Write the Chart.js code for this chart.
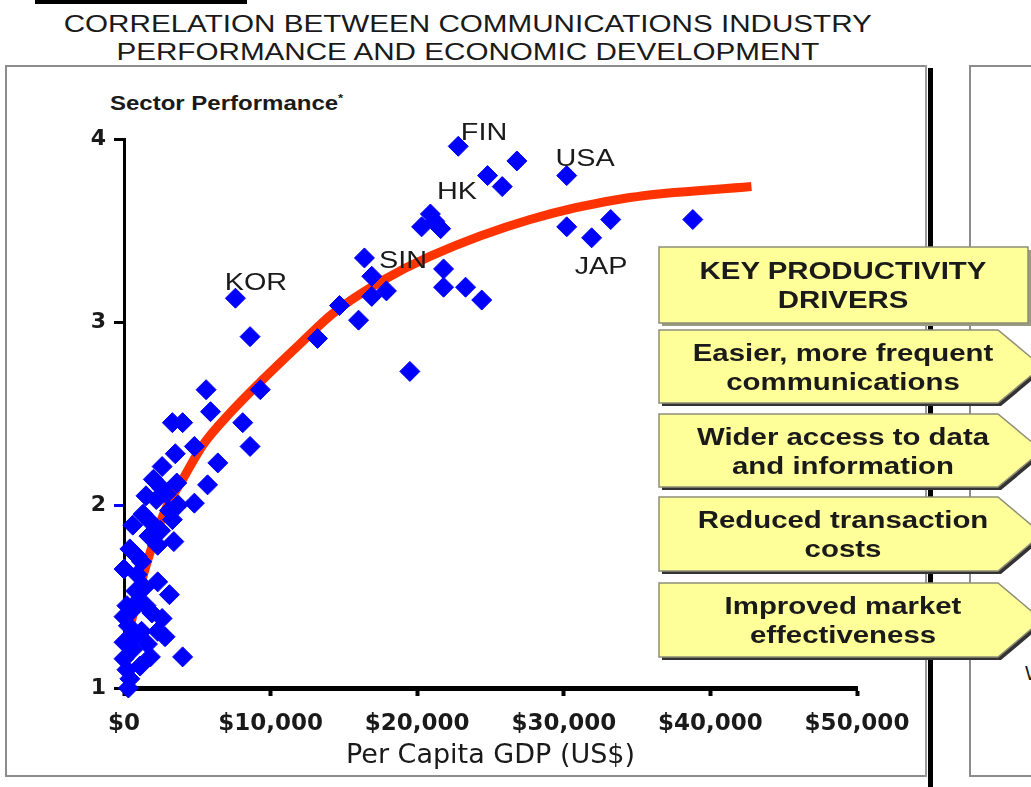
<!DOCTYPE html>
<html lang="en">
<head>
<meta charset="UTF-8" />
<title>Communications Industry Performance and Economic Development</title>
<script src="https://cdn.jsdelivr.net/npm/chart.js"></script>
<style>
  body {
    margin: 0;
    width: 1031px;
    height: 787px;
    overflow: hidden;
    position: relative;
    background: #fff;
    font-family: 'Liberation Sans', Arial, sans-serif;
    color: #1a1a1a;
  }
  .abs { position: absolute; }
  .wide { display: inline-block; transform: scaleX(1.2); }
  .topbar { left: 35px; top: 0; width: 212px; height: 4px; background: #000; }
  .title { left: 0; top: 10px; width: 936px; text-align: center; font-size: 24.7px; line-height: 28px; }
  .title .wide { transform-origin: center; }
  .panel { left: 5px; top: 65px; width: 920px; height: 708px; border: 2px solid #8c8c8c; border-right: none; }
  .panel-edge { left: 925px; top: 65px; width: 2px; height: 712px; background: #9a9a9a; }
  .divider { left: 928px; top: 68px; width: 5px; height: 719px; background: #000; }
  .panel2 { left: 969px; top: 65px; width: 80px; height: 708px; border: 2px solid #8c8c8c; border-right: none; }
  .ytitle { left: 110px; top: 88px; font-size: 20px; line-height: 20px; font-weight: bold; }
  .ytitle .wide { transform-origin: left; }
  .ytitle sup { font-size: 11px; }
  .stray { left: 1025px; top: 662px; font-size: 20px; }
  #chart { position: absolute; left: 0; top: 0; }
  #boxes { position: absolute; left: 0; top: 0; }
</style>
</head>
<body>
  <div class="abs topbar"></div>
  <div class="abs title">
    <span class="wide">CORRELATION BETWEEN COMMUNICATIONS INDUSTRY</span><br />
    <span class="wide">PERFORMANCE AND ECONOMIC DEVELOPMENT</span>
  </div>
  <div class="abs panel"></div>
  <div class="abs panel-edge"></div>
  <div class="abs panel2"></div>
  <div class="abs divider"></div>
  <div class="abs ytitle"><span class="wide">Sector Performance<sup>*</sup></span></div>
  <div class="abs stray">W</div>

  <canvas id="chart" width="1031" height="787"></canvas>
  <svg id="boxes" width="1031" height="787"></svg>

<script>
// per capita GDP (US$) and sector performance for each country
const gdp = [
  22800, 24800, 25800, 26800, 30200, 20900, 20300, 21600, 21200, 30200,
  31900, 33200, 38800, 16400, 16900, 17900, 16900, 14700, 16000, 21800,
  21800, 23300, 24400, 19500, 7600, 8600, 13200, 5600, 9300, 5900,
  3300, 4000, 8100, 4800, 8600, 3500, 6400, 2600, 2000, 5700,
  3600, 2900, 2200, 4800, 3700, 3100, 600, 1900, 3300, 1700,
  400, 2300, 3400, 1200, 0, 900, 2300, 3100, 800, 200,
  1500, 0, 500, 2600, 300, 1200, 2300, 0, 600, 1800,
  4000, 0, 200, 400, 300, 1000, 1400, 900, 1300, 2500,
  700, 1600, 1100, 1900, 2800, 1500, 2600
];
const performance = [
  3.96, 3.80, 3.74, 3.88, 3.80, 3.59, 3.52, 3.51, 3.55, 3.52,
  3.46, 3.56, 3.56, 3.35, 3.25, 3.17, 3.14, 3.09, 3.01, 3.29,
  3.19, 3.19, 3.12, 2.73, 3.13, 2.92, 2.91, 2.63, 2.63, 2.51,
  2.45, 2.45, 2.45, 2.32, 2.32, 2.28, 2.23, 2.21, 2.14, 2.11,
  2.12, 2.06, 2.03, 2.01, 2.00, 1.97, 1.89, 1.90, 1.92, 1.83,
  1.76, 1.78, 1.80, 1.69, 1.65, 1.62, 1.58, 1.51, 1.53, 1.45,
  1.45, 1.39, 1.42, 1.38, 1.34, 1.31, 1.31, 1.25, 1.21, 1.17,
  1.17, 1.16, 1.10, 1.05, 1.00, 1.48, 1.55, 1.72, 1.95, 1.86,
  1.28, 1.24, 1.12, 1.41, 1.28, 2.05, 2.09
];

// fitted trend curve
const trendGdp = [100, 400, 1400, 2800, 4000, 5400, 7200, 9400, 12000, 14300, 17500, 20900, 27700, 34500, 42800];
const trendPerf = [1.22, 1.33, 1.64, 1.97, 2.14, 2.33, 2.50, 2.68, 2.88, 3.05, 3.22, 3.36, 3.56, 3.68, 3.74];

// country call-outs (anchored in data units)
const countryNames = ['FIN', 'USA', 'HK', 'SIN', 'KOR', 'JAP'];
const countryGdp = [24560, 31450, 22710, 19030, 9000, 32540];
const countryPerf = [4.04, 3.90, 3.72, 3.34, 3.22, 3.31];

const xTicks = [0, 10000, 20000, 30000, 40000, 50000];
const yTicks = [1, 2, 3, 4];

const driverLines = [
  ['KEY PRODUCTIVITY', 'DRIVERS'],
  ['Easier, more frequent', 'communications'],
  ['Wider access to data', 'and information'],
  ['Reduced transaction', 'costs'],
  ['Improved market', 'effectiveness']
];

// call-out labels, drawn a little stretched like the source
const countryLabelPlugin = {
  id: 'countryLabels',
  afterDatasetsDraw(chart) {
    const { ctx, scales } = chart;
    countryNames.forEach((name, i) => {
      const px = scales.x.getPixelForValue(countryGdp[i]);
      const py = scales.y.getPixelForValue(countryPerf[i]);
      ctx.save();
      ctx.translate(px, py);
      ctx.scale(1.2, 1);
      ctx.font = '24px "Liberation Sans", Arial, sans-serif';
      ctx.fillStyle = '#1a1a1a';
      ctx.textAlign = 'center';
      ctx.textBaseline = 'alphabetic';
      ctx.fillText(name, 0, 8.6);
      ctx.restore();
    });
  }
};

new Chart(document.getElementById('chart'), {
  type: 'scatter',
  data: {
    datasets: [
      {
        label: 'Countries',
        data: gdp.map((g, i) => ({ x: g, y: performance[i] })),
        pointStyle: 'rectRot',
        pointRadius: 10,
        pointBackgroundColor: '#0000ff',
        pointBorderColor: '#0000ff',
        pointBorderWidth: 1,
        clip: false
      },
      {
        label: 'Trend',
        data: trendGdp.map((g, i) => ({ x: g, y: trendPerf[i] })),
        showLine: true,
        borderColor: '#ff3300',
        borderWidth: 9,
        pointRadius: 0,
        cubicInterpolationMode: 'monotone',
        clip: false
      }
    ]
  },
  options: {
    responsive: false,
    animation: false,
    layout: { padding: { top: 139, right: 174, bottom: 0, left: 0 } },
    plugins: {
      legend: { display: false },
      tooltip: { enabled: false }
    },
    scales: {
      x: {
        type: 'linear',
        min: 0,
        max: 50000,
        afterFit: s => { s.height = 99; },
        afterBuildTicks: s => { s.ticks = xTicks.map(v => ({ value: v })); },
        ticks: {
          autoSkip: false,
          maxRotation: 0,
          padding: 14,
          color: '#1a1a1a',
          font: { family: 'DejaVu Sans', size: 23, weight: 'bold' },
          callback: v => '$' + v.toLocaleString('en-US')
        },
        grid: { drawOnChartArea: false, tickLength: 8, tickWidth: 4, tickColor: '#000' },
        border: { display: true, width: 5, color: '#000' },
        title: {
          display: true,
          text: 'Per Capita GDP (US$)',
          color: '#1a1a1a',
          font: { family: 'DejaVu Sans', size: 27 },
          padding: { top: 0, bottom: 15 }
        }
      },
      y: {
        type: 'linear',
        min: 1,
        max: 4,
        afterFit: s => { s.width = 124; },
        afterBuildTicks: s => { s.ticks = yTicks.map(v => ({ value: v })); },
        ticks: {
          padding: 8,
          color: '#1a1a1a',
          font: { family: 'DejaVu Sans', size: 22, weight: 'bold' }
        },
        grid: {
          drawOnChartArea: false,
          tickLength: 10,
          tickWidth: 3,
          tickColor: c => (c.tick && c.tick.value === 2 ? '#0000ff' : '#000')
        },
        border: { display: true, width: 3, color: '#000' }
      }
    }
  },
  plugins: [countryLabelPlugin]
});

// key productivity driver boxes
const svgNS = 'http://www.w3.org/2000/svg';
const svg = document.getElementById('boxes');
const boxTops = [247, 330, 414, 497, 583];
const boxHeights = [76, 73, 73, 74, 74];
function el(tag, attrs, text) {
  const e = document.createElementNS(svgNS, tag);
  for (const k in attrs) e.setAttribute(k, attrs[k]);
  if (text) e.textContent = text;
  svg.appendChild(e);
  return e;
}
driverLines.forEach((lines, i) => {
  const t = boxTops[i], h = boxHeights[i];
  const l = 659, r = i === 0 ? 1028 : 998, tip = 1042;
  const pts = i === 0
    ? [[l, t], [r, t], [r, t + h], [l, t + h]]
    : [[l, t], [r, t], [tip, t + h / 2], [r, t + h], [l, t + h]];
  const poly = pts.map(p => p.join(',')).join(' ');
  el('polygon', { points: poly, fill: i === 0 ? '#9a9a80' : '#333', transform: 'translate(3,3)' });
  el('polygon', { points: poly, fill: '#ffff99', stroke: '#8e8e78', 'stroke-width': 1.5 });
  const cy = t + h / 2;
  lines.forEach((line, j) => {
    const base = cy + (j === 0 ? -14.5 : 14.5) + 8.7;
    el('text', {
      x: 0, y: 0,
      transform: `translate(843,${base}) scale(1.2,1)`,
      'text-anchor': 'middle',
      'font-family': 'Liberation Sans, Arial, sans-serif',
      'font-size': 24.5,
      'font-weight': 'bold',
      fill: '#1a1a1a'
    }, line);
  });
});
</script>
</body>
</html>
